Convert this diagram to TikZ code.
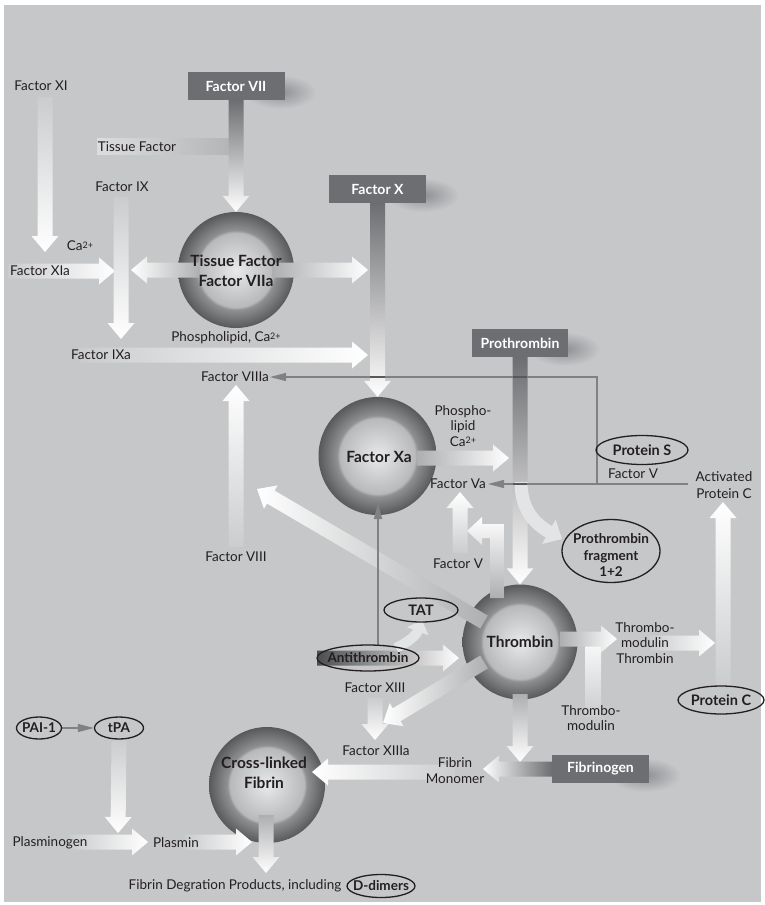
\documentclass[tikz,border=0pt]{standalone}
\usepackage{fontspec}
\setmainfont{Lato}
\usetikzlibrary{calc,arrows.meta,shapes.geometric}
\definecolor{bgc}{HTML}{C6C7C9}
\definecolor{boxc}{HTML}{6D6E71}
\definecolor{tailc}{HTML}{CBCCCE}
\definecolor{txtc}{HTML}{231F20}
\definecolor{linec}{HTML}{808184}
\definecolor{darkl}{HTML}{58595B}
\definecolor{shadc}{HTML}{8E8F92}
\definecolor{midg}{HTML}{AEAFB1}
\definecolor{tfbL}{HTML}{DCDDDF}
\definecolor{tfbR}{HTML}{B2B3B5}
\definecolor{atdark}{HTML}{4D4E50}
\definecolor{curvec}{HTML}{E3E4E5}
\definecolor{sphA}{HTML}{E8E9EA}
\definecolor{sphB}{HTML}{B8B9BB}
\definecolor{sphC}{HTML}{8F9092}
\definecolor{sphD}{HTML}{58595B}
\pgfdeclareradialshading{spheresh}{\pgfpoint{0bp}{0bp}}{color(0bp)=(sphA); color(16bp)=(sphB); color(17.2bp)=(sphC); color(25bp)=(sphD); color(50bp)=(sphD)}
\pgfdeclarelayer{back}\pgfdeclarelayer{mid}\pgfsetlayers{back,mid,main}
\def\fasw{7.5pt}\def\fahw{13.5pt}\def\fahl{16pt}
\newcommand\fatarrow[3]{%
 \path #2 coordinate (faA) #3 coordinate (faB);
 \path ($(faB)!\fahl!(faA)$) coordinate (faH);
 \shade[#1] ($(faA)!\fasw!90:(faB)$) -- ($(faH)!\fasw!90:(faB)$) -- ($(faH)!\fahw!90:(faB)$) -- (faB) -- ($(faH)!\fahw!-90:(faB)$) -- ($(faH)!\fasw!-90:(faB)$) -- ($(faA)!\fasw!-90:(faB)$) -- cycle;}
\newcommand\casup{Ca\raisebox{2.5pt}{\fontsize{9}{9}\selectfont 2+}}
\tikzset{
 lbl/.style={font=\fontsize{13.5}{15.5}\selectfont, text=txtc, inner sep=0pt, align=center},
 blbl/.style={font=\bfseries\fontsize{14.5}{16.5}\selectfont, text=txtc, inner sep=0pt, align=center},
 sblbl/.style={blbl, font=\bfseries\fontsize{13.5}{16.5}\selectfont},
 ctext/.style={font=\bfseries\fontsize{15.5}{20}\selectfont, text=txtc, inner sep=0pt, align=center},
 boxn/.style={fill=boxc, text=white, font=\bfseries\fontsize{14}{15}\selectfont, minimum width=97pt, minimum height=28pt, inner sep=0pt},
 sph/.style={circle, shade, shading=spheresh, minimum size=#1, inner sep=0pt},
 oval/.style={ellipse, draw=txtc, line width=1.3pt, inner sep=0pt},
 thinl/.style={draw=linec, line width=1.2pt},
 thinarrow/.style={thinl, -{Triangle[length=16pt,width=8pt]}},
 shadow/.style={inner color=shadc, outer color=bgc},
}
\begin{document}
\begin{tikzpicture}[x=1pt,y=-1pt]
\useasboundingbox (0,0) rectangle (765,905);
\begin{pgfonlayer}{back}
\fill[white] (0,0) rectangle (765,905);
\fill[bgc] (4,5) rectangle (761,902);
\shade[shadow] (280,92) ellipse (36 and 17);
\shade[shadow] (423,195) ellipse (36 and 17);
\shade[shadow] (564,349) ellipse (36 and 17);
\shade[shadow] (645,775) ellipse (36 and 17);
\node[sph=116pt] (tf) at (236,270) {};
\node[sph=118pt] (xa) at (377.5,456) {};
\node[sph=115pt] (th) at (520,642) {};
\node[sph=116pt] (cl) at (267,785) {};
\end{pgfonlayer}

% boxes
\node[boxn] (f7) at (236,86) {Factor VII};
\node[boxn] (fx) at (377.5,189) {Factor X};
\node[boxn, minimum width=96pt] (pt) at (520,343) {Prothrombin};
\node[boxn] (fg) at (600.5,769) {Fibrinogen};

% sphere texts
\node[ctext] (tft) at (236,271) {Tissue Factor\\Factor VIIa};
\node[ctext] (xat) at (379,457) {Factor Xa};
\node[ctext] (tht) at (520,642) {Thrombin};
\node[ctext] (clt) at (264,773) {Cross-linked\\Fibrin};

% ovals
\node[oval, minimum width=92pt, minimum height=29pt] (ps) at (642,450) {};
\node[blbl] (pst) at (ps) {Protein S};
\node[oval, minimum width=98pt, minimum height=63pt] (frag) at (611,551) {};
\node[sblbl] (fragt) at (611,555) {Prothrombin\\fragment\\1+2};
\node[oval, minimum width=74pt, minimum height=24pt] (tat) at (421,610) {};
\node[blbl] (tatt) at (tat) {TAT};
\node[oval, minimum width=102pt, minimum height=26pt] (at) at (368,658) {};
\node[sblbl] (att) at (at) {Antithrombin};
\node[oval, minimum width=86pt, minimum height=28pt] (pc) at (721,700) {};
\node[blbl] (pct) at (pc) {Protein C};
\node[oval, minimum width=45pt, minimum height=22pt] (pai) at (39,728) {};
\node[sblbl] (pait) at (pai) {PAI-1};
\node[oval, minimum width=49pt, minimum height=22pt] (tpa) at (119,728) {};
\node[sblbl] (tpat) at (tpa) {tPA};
\node[oval, minimum width=68pt, minimum height=23pt] (dd) at (381,886) {};
\node[sblbl] (ddt) at (dd) {D-dimers};

% labels
\node[lbl] (xil) at (41,86) {Factor XI};
\node[lbl] (tfl) at (137,147) {Tissue Factor};
\node[lbl] (ixl) at (122,187) {Factor IX};
\node[lbl] (cal) at (80,246) {\casup};
\node[lbl] (xial) at (40,271) {Factor XIa};
\node[lbl] (pl1) at (226,338) {Phospholipid, \casup};
\node[lbl] (ixal) at (101,355) {Factor IXa};
\node[lbl] (viiial) at (235,377) {Factor VIIIa};
\node[lbl] (viiil) at (236,557) {Factor VIII};
\node[lbl] (pl2) at (463,426) {Phospho-\\lipid\\\casup};
\node[lbl] (val) at (458,484) {Factor Va};
\node[lbl] (vl2) at (458,564) {Factor V};
\node[lbl] (vl1) at (633,474) {Factor V};
\node[lbl, font=\fontsize{13.5}{17}\selectfont] (apcl) at (724,485) {Activated\\Protein C};
\node[lbl] (xiiil) at (375,688) {Factor XIII};
\node[lbl] (tmtl) at (645,643) {Thrombo-\\modulin\\Thrombin};
\node[lbl] (tml) at (591,718) {Thrombo-\\modulin};
\node[lbl] (xiiial) at (376,751) {Factor XIIIa};
\node[lbl, font=\fontsize{13.5}{16}\selectfont] (fml) at (455,771) {Fibrin\\Monomer};
\node[lbl] (plgl) at (50,843) {Plasminogen};
\node[lbl] (plml) at (176,843) {Plasmin};
\node[lbl] (fdpl) at (235,886) {Fibrin Degration Products, including};

% free ends
\coordinate (xiA) at (45,97);      \coordinate (xiB) at (45,252);
\coordinate (xiaA) at (8,271);     \coordinate (xiaB) at (115,271);
\coordinate (ixA) at (121,197);    \coordinate (ixB) at (121,339);
\coordinate (tfL) at (200,270);    \coordinate (tfLt) at (131,270);
\coordinate (tfR) at (272,270);    \coordinate (tfRt) at (368,270);
\coordinate (ixaA) at (80,355);    \coordinate (ixaB) at (368,355);
\coordinate (viiiA) at (236,547);  \coordinate (viiiB) at (236,385);
\coordinate (xaA) at (417,458);    \coordinate (xaB) at (509,458);
\coordinate (vA) at (460,553);     \coordinate (vB) at (460,492);
\coordinate (t8A) at (484,622);    \coordinate (t8B) at (257,489);
\coordinate (t13A) at (484,662);   \coordinate (t13B) at (383,723);
\coordinate (atA) at (317,658);    \coordinate (atB) at (459,658);
\coordinate (trA) at (560,639);    \coordinate (trB) at (617,639);
\coordinate (tmtA) at (650,643);   \coordinate (tmtB) at (715,643);
\coordinate (pcA) at (723,686);    \coordinate (apcB) at (723,502);
\coordinate (tdA) at (520,694);    \coordinate (tdB) at (520,762);
\coordinate (x13A) at (375,698);   \coordinate (x13B) at (375,740);
\coordinate (fgB) at (483,769);
\coordinate (fmA) at (455,772);    \coordinate (fmB) at (312,772);
\coordinate (tpB) at (118,833);
\coordinate (plgA) at (70,842);    \coordinate (plgB) at (148,842);
\coordinate (plmA) at (185,842);   \coordinate (plmB) at (252,842);
\coordinate (clA) at (266,815);    \coordinate (clB) at (266,873);
\coordinate (tfbA) at (97,138);    \coordinate (tfbB) at (236,154);
\coordinate (tmbA) at (585,632);   \coordinate (tmbB) at (601,716);
\coordinate (frA) at (521,482);    \coordinate (frB) at (562,539);
\coordinate (ttA) at (396,648);    \coordinate (ttB) at (422,620);
\coordinate (axA) at (378,646);    \coordinate (axB) at (378,503);
\coordinate (apcL) at (688,484);   \coordinate (vaT) at (488,484);
\coordinate (brA) at (597,484);    \coordinate (viiiT) at (270,377);

\begin{pgfonlayer}{mid}
\shade[left color=tfbL, right color=tfbR] (tfbA) rectangle (tfbB);
\fatarrow{top color=boxc, bottom color=white}{(f7.south)}{(tf.north)}
\fatarrow{top color=tailc, bottom color=white}{(xiA)}{(xiB)}
\fatarrow{left color=tailc, right color=white}{(xiaA)}{(xiaB)}
\fatarrow{top color=tailc, bottom color=white}{(ixA)}{(ixB)}
\fatarrow{left color=white, right color=midg}{(tfL)}{(tfLt)}
\fatarrow{left color=midg, right color=white}{(tfR)}{(tfRt)}
\fatarrow{top color=boxc, bottom color=white}{(fx.south)}{(xa.north)}
\fatarrow{left color=tailc, right color=white}{(ixaA)}{(ixaB)}
\fatarrow{bottom color=tailc, top color=white}{(viiiA)}{(viiiB)}
\fatarrow{left color=midg, right color=white}{(xaA)}{(xaB)}
\fatarrow{top color=boxc, bottom color=white}{(pt.south)}{(th.north)}
\fatarrow{bottom color=tailc, top color=white}{(vA)}{(vB)}
\shade[bottom color=midg, top color=white] (490,598) -- (490,538) -- (482,538) -- (482,545) -- (467,531) -- (482,517) -- (482,524) -- (504,524) -- (504,598) -- cycle;
\fatarrow{left color=white, right color=midg}{(t8A)}{(t8B)}
\fatarrow{left color=white, right color=midg}{(t13A)}{(t13B)}
\fatarrow{left color=atdark, middle color=bgc, right color=white}{(atA)}{(atB)}
\shade[top color=white, bottom color=tailc] (tmbA) rectangle (tmbB);
\fatarrow{left color=midg, right color=white}{(trA)}{(trB)}
\fatarrow{left color=tailc, right color=white}{(tmtA)}{(tmtB)}
\fatarrow{bottom color=tailc, top color=white}{(pcA)}{(apcB)}
\fatarrow{top color=midg, bottom color=white}{(tdA)}{(tdB)}
\fatarrow{top color=tailc, bottom color=white}{(x13A)}{(x13B)}
\fatarrow{right color=boxc, left color=white}{(fg.west)}{(fgB)}
\fatarrow{right color=tailc, left color=white}{(fmA)}{(fmB)}
\fatarrow{top color=tailc, bottom color=white}{(tpa.south)}{(tpB)}
\fatarrow{left color=tailc, right color=white}{(plgA)}{(plgB)}
\fatarrow{left color=tailc, right color=white}{(plmA)}{(plmB)}
\fatarrow{top color=midg, bottom color=white}{(clA)}{(clB)}
% curved arrows
\draw[line width=13pt, draw=curvec, -{Triangle[length=15pt,width=27pt]}] (frA) .. controls (521,510) and (535,524) .. (frB);
\draw[line width=10pt, draw=curvec, -{Triangle[length=12pt,width=22pt]}] (ttA) .. controls (408,642) and (416,636) .. (ttB);
% thin inhibition / activation lines
\draw[thinarrow] (axA) -- (axB);
\draw[thinarrow] (apcL) -- (vaT);
\draw[thinarrow] (brA) |- (viiiT);
\draw[thinarrow] (pai) -- (tpa);
\draw[darkl, line width=2.5pt] (370,377) -- (385,377);
\draw[darkl, line width=2.5pt] (513,377) -- (527,377);
\draw[darkl, line width=2.5pt] (513,484) -- (527,484);
\end{pgfonlayer}
\end{tikzpicture}
\end{document}
